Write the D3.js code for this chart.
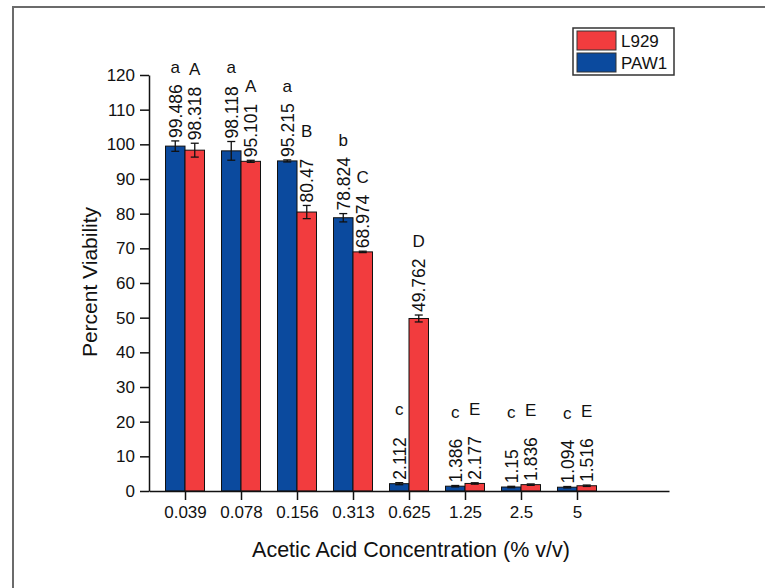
<!DOCTYPE html>
<meta charset="utf-8">
<style>
body { margin: 0; background: white; font-family: Arial, 'Liberation Sans', sans-serif; }
svg text { font-family: Arial, 'Liberation Sans', sans-serif; fill: #111; }
</style>
<body>
<script src="https://d3js.org/d3.v7.min.js"></script>
<script>

// data
var concentrations = ["0.039", "0.078", "0.156", "0.313", "0.625", "1.25", "2.5", "5"];
var paw1 = [99.486, 98.118, 95.215, 78.824, 2.112, 1.386, 1.15, 1.094];
var paw1Err = [1.5, 2.7, 0.3, 1.2, 0.3, 0.2, 0.2, 0.2];
var paw1Letters = ["a", "a", "a", "b", "c", "c", "c", "c"];
var l929 = [98.318, 95.101, 80.47, 68.974, 49.762, 2.177, 1.836, 1.516];
var l929Err = [2.0, 0.3, 1.9, 0.2, 1.0, 0.2, 0.2, 0.2];
var l929Letters = ["A", "A", "B", "C", "D", "E", "E", "E"];
var yTicks = [0, 10, 20, 30, 40, 50, 60, 70, 80, 90, 100, 110, 120];

var blue = "#0b4a9e", red = "#f23c3e";

var svg = d3.select("body").append("svg")
  .attr("width", 765)
  .attr("height", 588);

// frame (only top/left edges visible in the crop)
svg.append("path")
  .attr("d", "M13,588 V7 H765")
  .attr("fill", "none")
  .attr("stroke", "#6b6b6b")
  .attr("stroke-width", 2);

var x = d3.scaleLinear().domain([-0.643, 8.643]).range([149, 669]);
var y = d3.scaleLinear().domain([0, 120]).range([491, 75]);
var barW = 19.5;

// series table built from the arrays
var series = [
  { name: "PAW1", color: blue, values: paw1, err: paw1Err, letters: paw1Letters, dx: -barW },
  { name: "L929", color: red, values: l929, err: l929Err, letters: l929Letters, dx: 0 }
];

// y axis
var yAxis = svg.append("g")
  .attr("transform", "translate(149,0)")
  .call(d3.axisLeft(y).tickValues(yTicks).tickSize(9).tickPadding(5).tickSizeOuter(0));
yAxis.select(".domain").attr("stroke", "#111").attr("stroke-width", 1.5);
yAxis.selectAll(".tick line").attr("stroke", "#111").attr("stroke-width", 1.5);
yAxis.selectAll("text").style("font-size", "17px").attr("fill", "#111");

// bars
series.forEach(function(s) {
  var g = svg.append("g");
  g.selectAll("rect")
    .data(s.values)
    .enter().append("rect")
      .attr("x", function(d, i) { return x(i) + s.dx; })
      .attr("y", function(d) { return y(d); })
      .attr("width", barW)
      .attr("height", function(d) { return y(0) - y(d); })
      .attr("fill", s.color)
      .attr("stroke", "#111")
      .attr("stroke-width", 1);

  // error bars
  s.values.forEach(function(v, i) {
    var cx = x(i) + s.dx + barW / 2;
    var e = s.err[i];
    var eg = g.append("g").attr("stroke", "#111").attr("stroke-width", 1.3);
    eg.append("line").attr("x1", cx).attr("x2", cx).attr("y1", y(v + e)).attr("y2", y(v - e));
    eg.append("line").attr("x1", cx - 4).attr("x2", cx + 4).attr("y1", y(v + e)).attr("y2", y(v + e));
    eg.append("line").attr("x1", cx - 4).attr("x2", cx + 4).attr("y1", y(v - e)).attr("y2", y(v - e));

    // value label, rotated
    var ty = y(v + e) - 3;
    g.append("text")
      .attr("transform", "translate(" + (cx + 6.5) + "," + ty + ") rotate(-90)")
      .style("font-size", "17.5px")
      .text(v);

    // significance letter
    g.append("text")
      .attr("x", cx)
      .attr("y", y(v + e) - 68)
      .attr("text-anchor", "middle")
      .style("font-size", "17px")
      .text(s.letters[i]);
  });
});

// x axis
var xAxis = svg.append("g")
  .attr("transform", "translate(0,491)")
  .call(d3.axisBottom(x)
    .tickValues(d3.range(concentrations.length))
    .tickFormat(function(i) { return concentrations[i]; })
    .tickSize(9).tickPadding(6).tickSizeOuter(0));
xAxis.select(".domain").attr("stroke", "#111").attr("stroke-width", 1.5);
xAxis.selectAll(".tick line").attr("stroke", "#111").attr("stroke-width", 1.5);
xAxis.selectAll("text").style("font-size", "17px").attr("fill", "#111");

// axis titles
svg.append("text")
  .attr("x", 411)
  .attr("y", 557)
  .attr("text-anchor", "middle")
  .style("font-size", "21.5px")
  .text("Acetic Acid Concentration (% v/v)");

svg.append("text")
  .attr("transform", "translate(97,282) rotate(-90)")
  .attr("text-anchor", "middle")
  .style("font-size", "21px")
  .text("Percent Viability");

// legend
var leg = svg.append("g").attr("transform", "translate(573,28)");
leg.append("rect")
  .attr("width", 101).attr("height", 47)
  .attr("fill", "white").attr("stroke", "#333").attr("stroke-width", 1.5);
[series[1], series[0]].forEach(function(s, i) {
  leg.append("rect")
    .attr("x", 4).attr("y", 3 + i * 22)
    .attr("width", 39).attr("height", 19)
    .attr("fill", s.color).attr("stroke", "#333").attr("stroke-width", 1);
  leg.append("text")
    .attr("x", 48).attr("y", 19 + i * 22)
    .style("font-size", "17px")
    .text(s.name);
});

</script>
</body>
